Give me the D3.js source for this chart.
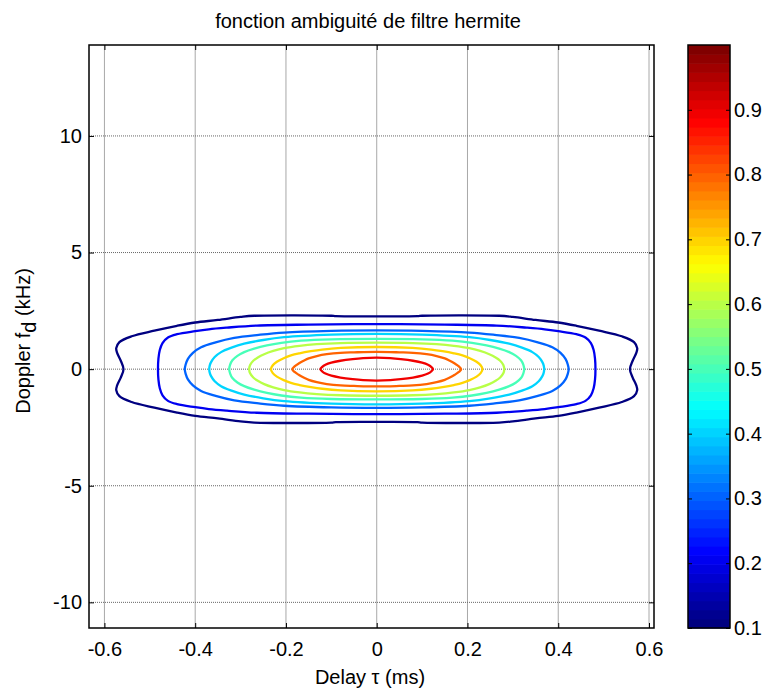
<!DOCTYPE html>
<html><head><meta charset="utf-8">
<script src="https://cdn.jsdelivr.net/npm/d3@7"></script>
<style>
body{margin:0;background:#fff}
text{font-family:"Liberation Sans",Arial,sans-serif;fill:#000}
</style>
</head><body><svg id="c" width="767" height="695"></svg>
<script>
// ---- data ----
const tauTicks = [-0.6, -0.4, -0.2, 0, 0.2, 0.4, 0.6];
const fdTicks = [-10, -5, 0, 5, 10];
const cbTicks = [0.1, 0.2, 0.3, 0.4, 0.5, 0.6, 0.7, 0.8, 0.9];
const tauDomain = [-0.634, 0.611];
const fdDomain = [-11.1, 13.9];
const cbDomain = [0.1, 1.0];
const levels = [0.1, 0.2, 0.3, 0.4, 0.5, 0.6, 0.7, 0.8, 0.9];
// upper-right quadrant of each contour: [tau (ms), fd (kHz)]
const c01 = [[0,2.26],[0.09,2.27],[0.10,2.29],[0.27,2.29],[0.30,2.24],[0.35,2.11],[0.40,2.0],[0.44,1.86],[0.49,1.65],[0.54,1.41],[0.567,1.16],[0.574,0.90],[0.572,0.70],[0.564,0.36],[0.558,0]];
const c02 = [[0,1.93],[0.15,1.91],[0.264,1.87],[0.33,1.78],[0.37,1.71],[0.40,1.63],[0.44,1.50],[0.46,1.36],[0.472,1.12],[0.478,0.82],[0.481,0.45],[0.482,0]];
const c03 = [[0,1.66],[0.1,1.64],[0.204,1.57],[0.26,1.47],[0.314,1.34],[0.355,1.15],[0.387,0.94],[0.405,0.70],[0.416,0.44],[0.421,0.2],[0.423,0]];
const c04 = [[0,1.51],[0.1,1.48],[0.204,1.37],[0.25,1.25],[0.292,1.09],[0.32,0.92],[0.343,0.73],[0.357,0.52],[0.365,0.30],[0.368,0.15],[0.369,0]];
const c05 = [[0,1.30],[0.1,1.28],[0.167,1.22],[0.21,1.13],[0.242,1.02],[0.27,0.88],[0.292,0.73],[0.307,0.57],[0.318,0.38],[0.323,0.19],[0.325,0]];
const c06 = [[0,1.14],[0.08,1.12],[0.132,1.07],[0.17,1.00],[0.204,0.90],[0.228,0.78],[0.248,0.64],[0.262,0.50],[0.272,0.36],[0.279,0.18],[0.281,0]];
const c07 = [[0,0.95],[0.079,0.91],[0.12,0.84],[0.145,0.77],[0.17,0.68],[0.189,0.59],[0.205,0.47],[0.22,0.32],[0.229,0.17],[0.233,0]];
const c08 = [[0,0.74],[0.05,0.72],[0.08,0.70],[0.11,0.64],[0.132,0.56],[0.15,0.46],[0.16,0.37],[0.172,0.24],[0.181,0.12],[0.186,0]];
const c09 = [[0,0.49],[0.03,0.47],[0.053,0.43],[0.08,0.36],[0.10,0.28],[0.113,0.19],[0.12,0.10],[0.124,0]];
const contours = [c01, c02, c03, c04, c05, c06, c07, c08, c09];

// ---- layout ----
const svg = d3.select("#c");
const L = 89, R = 654, T = 45, B = 628;
const cbL = 688, cbR = 730;
const x = d3.scaleLinear().domain(tauDomain).range([L, R]);
const y = d3.scaleLinear().domain(fdDomain).range([B, T]);
const yc = d3.scaleLinear().domain(cbDomain).range([B, T]);

function jet(t) {
  const cl = v => Math.max(0, Math.min(1, v));
  const r = cl(1.5 - Math.abs(4 * t - 3));
  const g = cl(1.5 - Math.abs(4 * t - 2));
  const b = cl(1.5 - Math.abs(4 * t - 1));
  return d3.rgb(r * 255, g * 255, b * 255).formatHex();
}
const M = 64;
function levelColor(v) {
  let i = Math.floor((v - cbDomain[0]) / (cbDomain[1] - cbDomain[0]) * M);
  i = Math.max(0, Math.min(M - 1, i));
  return jet(i / (M - 1));
}

// grid
const g = svg.append("g");
g.selectAll(".vg").data(tauTicks).join("line")
  .attr("x1", d => x(d)).attr("x2", d => x(d)).attr("y1", T).attr("y2", B)
  .attr("stroke", "#a8a8a8").attr("stroke-width", 1);
g.selectAll(".hg").data(fdTicks).join("line")
  .attr("x1", L).attr("x2", R).attr("y1", d => y(d)).attr("y2", d => y(d))
  .attr("stroke", "#666").attr("stroke-width", 1).attr("stroke-dasharray", "1,1");

// contours
function loop(q) {
  const ur = q.map(([t, f]) => [t, f]);
  const lr = q.slice().reverse().map(([t, f]) => [t, -f]);
  const ll = q.map(([t, f]) => [-t, -f]);
  const ul = q.slice().reverse().map(([t, f]) => [-t, f]);
  const all = [...ur, ...lr, ...ll, ...ul];
  const pts = [];
  all.forEach(p => {
    const l = pts[pts.length - 1];
    if (!l || Math.abs(l[0] - p[0]) > 1e-9 || Math.abs(l[1] - p[1]) > 1e-9) pts.push(p);
  });
  const f = pts[0], l = pts[pts.length - 1];
  if (Math.abs(f[0] - l[0]) < 1e-9 && Math.abs(f[1] - l[1]) < 1e-9) pts.pop();
  return pts;
}
const line = d3.line().x(d => x(d[0])).y(d => y(d[1])).curve(d3.curveCatmullRomClosed.alpha(0.5));
svg.append("g").selectAll("path").data(levels).join("path")
  .attr("d", (v, i) => line(loop(contours[i])))
  .attr("fill", "none").attr("stroke", v => levelColor(v)).attr("stroke-width", 2.3);

// axes (ticks inward, box)
const tk = 5;
const fmtX = d => d === 0 ? "0" : d3.format(".1f")(d).replace("−", "-");
const fmtY = d => String(d).replace("−", "-");
svg.append("g").attr("transform", `translate(0,${B})`)
  .call(d3.axisBottom(x).tickValues(tauTicks).tickSize(-tk).tickPadding(14).tickFormat(fmtX))
  .call(a => a.select(".domain").remove());
svg.append("g").attr("transform", `translate(0,${T})`)
  .call(d3.axisTop(x).tickValues(tauTicks).tickSize(-tk).tickFormat(""))
  .call(a => a.select(".domain").remove());
svg.append("g").attr("transform", `translate(${L},0)`)
  .call(d3.axisLeft(y).tickValues(fdTicks).tickSize(-tk).tickPadding(7).tickFormat(fmtY))
  .call(a => a.select(".domain").remove());
svg.append("g").attr("transform", `translate(${R},0)`)
  .call(d3.axisRight(y).tickValues(fdTicks).tickSize(-tk).tickFormat(""))
  .call(a => a.select(".domain").remove());
svg.selectAll(".tick text").attr("font-size", 20).attr("font-family", "Liberation Sans, Arial, sans-serif");
svg.selectAll(".tick line").attr("stroke", "#000");
svg.append("rect").attr("x", L).attr("y", T).attr("width", R - L).attr("height", B - T)
  .attr("fill", "none").attr("stroke", "#000").attr("stroke-width", 1.5);

// colorbar
const bandVals = d3.range(M);
const bandH = (B - T) / M;
svg.append("g").selectAll("rect").data(bandVals).join("rect")
  .attr("x", cbL).attr("width", cbR - cbL)
  .attr("y", i => yc(cbDomain[0] + (i + 1) * (cbDomain[1] - cbDomain[0]) / M))
  .attr("height", bandH + 0.6)
  .attr("fill", i => jet(i / (M - 1)));
svg.append("g").attr("transform", `translate(${cbR},0)`)
  .call(d3.axisRight(yc).tickValues(cbTicks).tickSize(-4).tickPadding(4).tickFormat(d3.format(".1f")))
  .call(a => a.select(".domain").remove())
  .call(a => a.selectAll("text").attr("font-size", 20).attr("font-family", "Liberation Sans, Arial, sans-serif"))
  .call(a => a.selectAll("line").attr("stroke", "#000"));
svg.append("g").attr("transform", `translate(${cbL},0)`)
  .call(d3.axisLeft(yc).tickValues(cbTicks).tickSize(-4).tickFormat(""))
  .call(a => a.select(".domain").remove())
  .call(a => a.selectAll("line").attr("stroke", "#000"));
svg.append("rect").attr("x", cbL).attr("y", T).attr("width", cbR - cbL).attr("height", B - T)
  .attr("fill", "none").attr("stroke", "#000").attr("stroke-width", 1.5);

// titles
svg.append("text").attr("x", 368).attr("y", 28).attr("text-anchor", "middle")
  .attr("font-size", 20).text("fonction ambiguité de filtre hermite");
svg.append("text").attr("x", 370).attr("y", 684).attr("text-anchor", "middle")
  .attr("font-size", 20).text("Delay τ (ms)");
const yl = svg.append("text").attr("transform", "translate(30,341) rotate(-90)")
  .attr("text-anchor", "middle").attr("font-size", 20);
yl.append("tspan").text("Doppler f");
yl.append("tspan").attr("dy", 6).text("d");
yl.append("tspan").attr("dy", -6).text(" (kHz)");
</script></body></html>
